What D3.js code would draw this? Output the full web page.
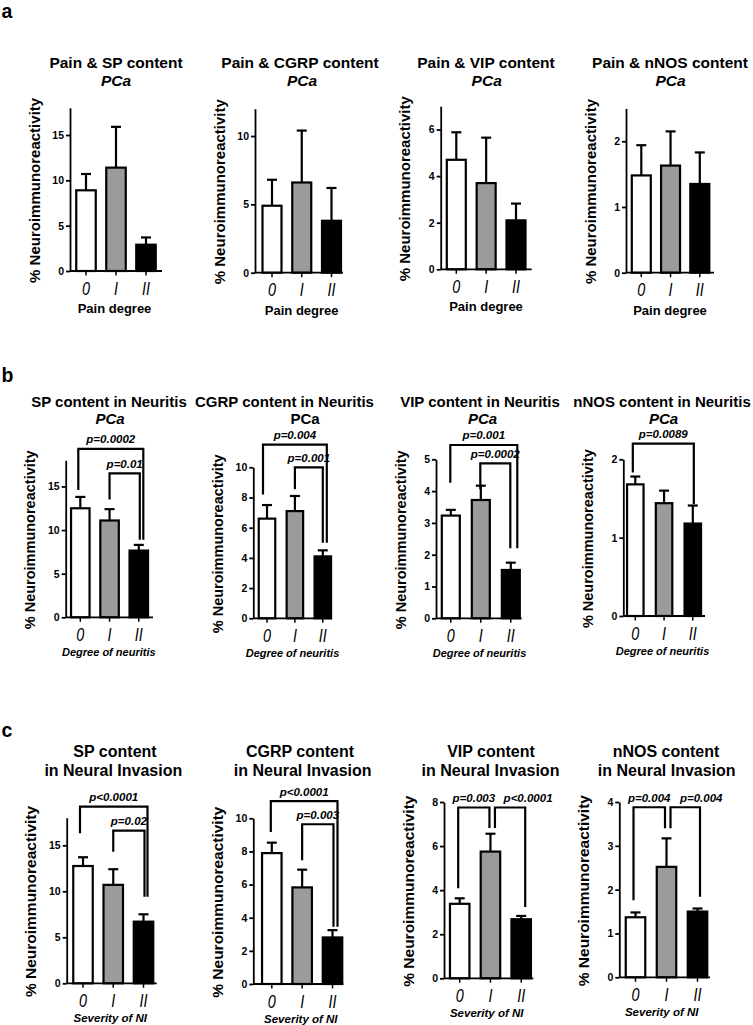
<!DOCTYPE html>
<html><head><meta charset="utf-8">
<script src="https://cdn.jsdelivr.net/npm/d3@7"></script>
<style>
html,body{margin:0;padding:0;background:#fff;}
svg{display:block;font-family:"Liberation Sans",Arial,sans-serif;}
</style></head>
<body>
<svg id="fig" width="753" height="1025"></svg>
<script>
// ---------------- DATA ----------------
const categories = ["0", "I", "II"];

// row a : pain degree
const painSPMean   = [8.9, 11.4, 2.9];
const painSPErr    = [1.8, 4.5, 0.8];
const painCGRPMean = [4.9, 6.6, 3.8];
const painCGRPErr  = [1.9, 3.8, 2.4];
const painVIPMean  = [4.7, 3.7, 2.1];
const painVIPErr   = [1.18, 1.95, 0.72];
const painNOSMean  = [1.48, 1.63, 1.35];
const painNOSErr   = [0.46, 0.52, 0.48];

// row b : degree of neuritis
const neurSPMean   = [12.5, 11.1, 7.65];
const neurSPErr    = [1.3, 1.3, 0.65];
const neurCGRPMean = [6.6, 7.1, 4.1];
const neurCGRPErr  = [0.9, 1.0, 0.4];
const neurVIPMean  = [3.23, 3.72, 1.52];
const neurVIPErr   = [0.18, 0.45, 0.23];
const neurNOSMean  = [1.68, 1.44, 1.18];
const neurNOSErr   = [0.1, 0.16, 0.23];

// row c : severity of neural invasion
const niSPMean   = [12.75, 10.7, 6.7];
const niSPErr    = [0.95, 1.7, 0.8];
const niCGRPMean = [7.9, 5.83, 2.81];
const niCGRPErr  = [0.63, 1.07, 0.44];
const niVIPMean  = [3.38, 5.75, 2.68];
const niVIPErr   = [0.25, 0.81, 0.15];
const niNOSMean  = [1.37, 2.52, 1.5];
const niNOSErr   = [0.11, 0.65, 0.07];

// y-axis domains and ticks
const domSP18 = 18, domCGRP12 = 12, domVIP7 = 7, domNOS25 = 2.5;
const ticksA_SP = [0, 5, 10, 15];
const ticksA_CGRP = [0, 5, 10];
const ticksA_VIP = [0, 2, 4, 6];
const ticksA_NOS = [0, 1, 2];
const ticksB_SP = [0, 5, 10, 15];
const ticksB_CGRP = [0, 2, 4, 6, 8, 10];
const ticksB_VIP = [0, 1, 2, 3, 4, 5];
const ticksB_NOS = [0, 1, 2];
const ticksC_SP = [0, 5, 10, 15];
const ticksC_CGRP = [0, 2, 4, 6, 8, 10];
const ticksC_VIP = [0, 2, 4, 6, 8];
const ticksC_NOS = [0, 1, 2, 3, 4];

// significance brackets (levels in data units)
const bracketsB_SP = [
  {from: 0, to: 2, y: 19.3, yFrom: 14.6, yTo: 8.9, label: "p=0.0002"},
  {from: 1, to: 2, y: 16.5, yFrom: 13.5, yTo: 8.9, label: "p=0.01"}];
const bracketsB_CGRP = [
  {from: 0, to: 2, y: 11.5, yFrom: 8.2, yTo: 5.0, label: "p=0.004"},
  {from: 1, to: 2, y: 10.0, yFrom: 8.55, yTo: 5.0, label: "p=0.001"}];
const bracketsB_VIP = [
  {from: 0, to: 2, y: 5.45, yFrom: 4.26, yTo: 2.2, label: "p=0.001"},
  {from: 1, to: 2, y: 4.87, yFrom: 4.06, yTo: 2.2, label: "p=0.0002"}];
const bracketsB_NOS = [
  {from: 0, to: 2, y: 2.2, yFrom: 1.83, yTo: 1.43, label: "p=0.0089"}];
const bracketsC_SP = [
  {from: 0, to: 2, y: 19.2, yFrom: 16.3, yTo: 9.4, label: "p<0.0001"},
  {from: 1, to: 2, y: 16.6, yFrom: 14.3, yTo: 9.4, label: "p=0.02"}];
const bracketsC_CGRP = [
  {from: 0, to: 2, y: 11.04, yFrom: 9.17, yTo: 3.45, label: "p<0.0001"},
  {from: 1, to: 2, y: 9.64, yFrom: 7.47, yTo: 3.45, label: "p=0.003"}];
const bracketsC_VIP = [
  {from: 0, to: 1, y: 7.75, yFrom: 4.09, yTo: 6.82, label: "p=0.003"},
  {from: 1, to: 2, y: 7.75, yFrom: 6.82, yTo: 3.23, label: "p<0.0001"}];
const bracketsC_NOS = [
  {from: 0, to: 1, y: 3.88, yFrom: 1.76, yTo: 3.4, label: "p=0.004"},
  {from: 1, to: 2, y: 3.88, yFrom: 3.4, yTo: 1.84, label: "p=0.004"}];

// ---------------- LAYOUT ----------------
const rows = [
  {letter: "a", letterY: 18, tY: [68.3, 86], tSize: 15.5, yLabSize: 15,
   xTitle: "Pain degree", xTitleStyle: "normal", xTitleSize: 13, xTitleDy: 42},
  {letter: "b", letterY: 381.5, tY: [407.3, 424.3], tSize: 15, yLabSize: 14.5,
   xTitle: "Degree of neuritis", xTitleStyle: "italic", xTitleSize: 11, xTitleDy: 38.5},
  {letter: "c", letterY: 736.7, tY: [757, 775.5], tSize: 16, yLabSize: 15.5,
   xTitle: "Severity of NI", xTitleStyle: "italic", xTitleSize: 11.5, xTitleDy: 39}
];

const panels = [
  // row a
  {row: 0, mean: painSPMean, err: painSPErr, max: domSP18, ticks: ticksA_SP, br: [],
   left: 70, right: 162, y0: 271, y1: 107.8, c0: 86, c2: 146, bw: 21.5,
   t1: "Pain & SP content", t2: "PCa", t2It: true, tx1: 116, tx2: 116, xtx: 114.5},
  {row: 0, mean: painCGRPMean, err: painCGRPErr, max: domCGRP12, ticks: ticksA_CGRP, br: [],
   left: 255, right: 343, y0: 272.7, y1: 108.7, c0: 272, c2: 331.5, bw: 21,
   t1: "Pain & CGRP content", t2: "PCa", t2It: true, tx1: 300, tx2: 302, xtx: 301.7},
  {row: 0, mean: painVIPMean, err: painVIPErr, max: domVIP7, ticks: ticksA_VIP, br: [],
   left: 440.7, right: 531.7, y0: 269.3, y1: 106.2, c0: 456.3, c2: 516, bw: 21,
   t1: "Pain & VIP content", t2: "PCa", t2It: true, tx1: 486, tx2: 486.7, xtx: 486},
  {row: 0, mean: painNOSMean, err: painNOSErr, max: domNOS25, ticks: ticksA_NOS, br: [],
   left: 626, right: 714, y0: 272.7, y1: 108.4, c0: 641.3, c2: 699.8, bw: 21,
   t1: "Pain & nNOS content", t2: "PCa", t2It: true, tx1: 670, tx2: 670.5, xtx: 670},
  // row b
  {row: 1, mean: neurSPMean, err: neurSPErr, max: 18, ticks: ticksB_SP, br: bracketsB_SP,
   brDx: [[-2, 4.5, 0], [0, 1, 0]],
   left: 65.7, right: 153, y0: 617.3, y1: 460.3, c0: 80.3, c2: 138.8, bw: 20.5,
   t1: "SP content in Neuritis", t2: "PCa", t2It: true, tx1: 109, tx2: 110, xtx: 108.8},
  {row: 1, mean: neurCGRPMean, err: neurCGRPErr, max: 10, ticks: ticksB_CGRP, br: bracketsB_CGRP,
   brDx: [[-4, 4, 0], [0, 0, 0]],
   left: 253.3, right: 332, y0: 618.3, y1: 467.3, c0: 267, c2: 322.8, bw: 18.5,
   t1: "CGRP content in Neuritis", t2: "PCa", t2It: false, tx1: 284.5, tx2: 305, xtx: 292.5},
  {row: 1, mean: neurVIPMean, err: neurVIPErr, max: 5, ticks: ticksB_VIP, br: bracketsB_VIP,
   brDx: [[-0.5, 6.5, 0], [-0.5, -0.5, 0]],
   left: 436, right: 521.7, y0: 618.3, y1: 459.3, c0: 450.8, c2: 510.8, bw: 20,
   t1: "VIP content in Neuritis", t2: "PCa", t2It: true, tx1: 480, tx2: 482.5, xtx: 479.5},
  {row: 1, mean: neurNOSMean, err: neurNOSErr, max: 2, ticks: ticksB_NOS, br: bracketsB_NOS,
   brDx: [[-2.5, 1, 0]],
   left: 623.3, right: 705, y0: 616, y1: 459.3, c0: 635.3, c2: 692.8, bw: 18.5,
   t1: "nNOS content in Neuritis", t2: "PCa", t2It: true, tx1: 662, tx2: 663.5, xtx: 662.5},
  // row c
  {row: 2, mean: niSPMean, err: niSPErr, max: 18, ticks: ticksC_SP, br: bracketsC_SP,
   brDx: [[-3, 4, 0], [0, 1, 0]],
   left: 66.7, right: 156.7, y0: 983.3, y1: 817.7, c0: 83, c2: 143.5, bw: 21.5,
   t1: "SP content", t2: "in Neural Invasion", t2It: false, tx1: 115, tx2: 113.3, xtx: 110.3},
  {row: 2, mean: niCGRPMean, err: niCGRPErr, max: 10, ticks: ticksC_CGRP, br: bracketsC_CGRP,
   brDx: [[-1, 5, 0], [0, 1, 0]],
   left: 253.3, right: 343.3, y0: 984, y1: 818.3, c0: 271.8, c2: 332.5, bw: 21.5,
   t1: "CGRP content", t2: "in Neural Invasion", t2It: false, tx1: 300, tx2: 302.7, xtx: 300.8},
  {row: 2, mean: niVIPMean, err: niVIPErr, max: 8, ticks: ticksC_VIP, br: bracketsC_VIP,
   brDx: [[-1.5, -1, 0], [4.5, 4, 18]],
   left: 444, right: 533.3, y0: 978.3, y1: 802, c0: 459.7, c2: 521.2, bw: 21.5,
   t1: "VIP content", t2: "in Neural Invasion", t2It: false, tx1: 491, tx2: 490.5, xtx: 486.7},
  {row: 2, mean: niNOSMean, err: niNOSErr, max: 4, ticks: ticksC_NOS, br: bracketsC_NOS,
   brDx: [[-2, -1.5, 0], [4, 2.5, 16]],
   left: 619.3, right: 710, y0: 977.3, y1: 802, c0: 635.5, c2: 697.5, bw: 21.5,
   t1: "nNOS content", t2: "in Neural Invasion", t2It: false, tx1: 666, tx2: 666.7, xtx: 661.7}
];

const fills = ["#ffffff", "#9b9b9b", "#000000"];
const yLabel = "% Neuroimmunoreactivity";

// ---------------- DRAW ----------------
const svg = d3.select("#fig");
svg.append("rect").attr("width", 753).attr("height", 1025).attr("fill", "#fff");

rows.forEach(r => {
  svg.append("text").attr("x", 1.5).attr("y", r.letterY)
    .attr("font-size", 19.5).attr("font-weight", "bold").text(r.letter);
});

panels.forEach(p => {
  const r = rows[p.row];
  const g = svg.append("g");
  const x = d3.scalePoint().domain(categories).range([p.c0, p.c2]);
  const y = d3.scaleLinear().domain([0, p.max]).range([p.y0, p.y1]);

  // titles
  g.append("text").attr("x", p.tx1).attr("y", r.tY[0]).attr("text-anchor", "middle")
    .attr("font-size", r.tSize).attr("font-weight", "bold").text(p.t1);
  g.append("text").attr("x", p.tx2).attr("y", r.tY[1]).attr("text-anchor", "middle")
    .attr("font-size", r.tSize).attr("font-weight", "bold")
    .attr("font-style", p.t2It ? "italic" : "normal").text(p.t2);

  // bars
  const data = categories.map((c, i) => ({c, i, m: p.mean[i], e: p.err[i]}));
  g.selectAll("line.eb").data(data).enter().append("line")
    .attr("x1", d => x(d.c)).attr("x2", d => x(d.c))
    .attr("y1", d => y(d.m)).attr("y2", d => y(d.m + d.e))
    .attr("stroke", "#000").attr("stroke-width", 2.2);
  g.selectAll("line.cap").data(data).enter().append("line")
    .attr("x1", d => x(d.c) - 5).attr("x2", d => x(d.c) + 5)
    .attr("y1", d => y(d.m + d.e)).attr("y2", d => y(d.m + d.e))
    .attr("stroke", "#000").attr("stroke-width", 2.2);
  g.selectAll("rect.bar").data(data).enter().append("rect")
    .attr("x", d => x(d.c) - (p.bw - 2) / 2).attr("width", p.bw - 2)
    .attr("y", d => y(d.m)).attr("height", d => y(0) - y(d.m))
    .attr("fill", d => fills[d.i]).attr("stroke", "#000").attr("stroke-width", 2.2);

  // y axis
  const ya = d3.axisLeft(y).tickValues(p.ticks).tickSize(4).tickSizeOuter(0).tickPadding(2)
    .tickFormat(d3.format("d"));
  const yg = g.append("g").attr("transform", `translate(${p.left},0)`).call(ya);
  yg.select(".domain").attr("stroke", "#000").attr("stroke-width", 1.8);
  yg.selectAll(".tick line").attr("stroke", "#000").attr("stroke-width", 1.8);
  yg.selectAll(".tick text").attr("font-size", 10.5).attr("font-weight", "bold")
    .attr("font-family", "Liberation Sans, Arial, sans-serif").attr("fill", "#000");

  // x axis
  g.append("line").attr("x1", p.left).attr("x2", p.right).attr("y1", p.y0).attr("y2", p.y0)
    .attr("stroke", "#000").attr("stroke-width", 1.8);
  g.selectAll("line.xt").data(categories).enter().append("line")
    .attr("x1", d => x(d)).attr("x2", d => x(d)).attr("y1", p.y0).attr("y2", p.y0 + 4.5)
    .attr("stroke", "#000").attr("stroke-width", 1.5);
  g.selectAll("text.xl").data(categories).enter().append("text")
    .attr("transform", d => `translate(${x(d)},${p.y0 + 23.5}) scale(0.8,1)`)
    .attr("text-anchor", "middle")
    .attr("font-size", 18).attr("font-style", "italic").text(d => d);

  g.append("text").attr("x", p.xtx).attr("y", p.y0 + r.xTitleDy).attr("text-anchor", "middle")
    .attr("font-size", r.xTitleSize).attr("font-weight", "bold")
    .attr("font-style", r.xTitleStyle).text(r.xTitle);

  // y label
  g.append("text")
    .attr("transform", `translate(${p.left - 30.5},${(p.y0 + p.y1) / 2 + 1}) rotate(-90)`)
    .attr("text-anchor", "middle").attr("font-size", r.yLabSize).attr("font-weight", "bold")
    .text(yLabel);

  // brackets
  p.br.forEach((b, k) => {
    const off = p.brDx[k];
    const xa = x(categories[b.from]) + off[0];
    const xb = x(categories[b.to]) + off[1];
    const yl = y(b.y);
    g.append("path")
      .attr("d", `M${xa},${y(b.yFrom)}V${yl}H${xb}V${y(b.yTo)}`)
      .attr("fill", "none").attr("stroke", "#000").attr("stroke-width", 2.2);
    g.append("text").attr("x", (xa + xb) / 2 + off[2]).attr("y", yl - 5.5)
      .attr("text-anchor", "middle").attr("font-size", 11.5).attr("font-weight", "bold")
      .attr("font-style", "italic").text(b.label);
  });
});
</script>
</body></html>
